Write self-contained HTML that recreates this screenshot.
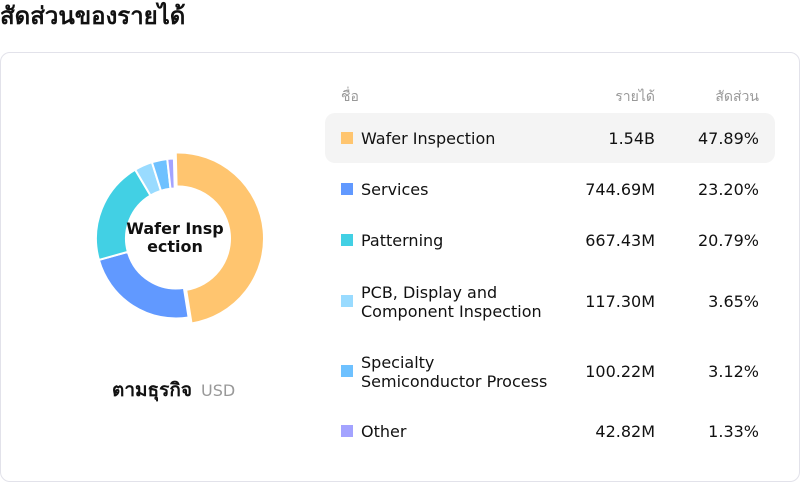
<!DOCTYPE html>
<html><head><meta charset="utf-8"><style>
*{margin:0;padding:0;box-sizing:border-box}
body{width:800px;height:482px;background:#fff;font-family:"DejaVu Sans","Liberation Sans","Noto Sans CJK SC",sans-serif;color:#111;position:relative;overflow:hidden}
.title{position:absolute;left:0;top:0;font-size:24px;font-weight:bold;line-height:32px}
.card{position:absolute;left:0;top:52px;width:800px;height:430px;border:1px solid #e2e2ea;border-radius:10px}
.t{position:absolute;font-size:16px;white-space:nowrap}
.h{position:absolute;font-size:14px;color:#999;top:86px}
.sw{position:absolute;left:341px;width:12px;height:12px}
.r{text-align:right}
</style></head><body>
<div class="title">สัดส่วนของรายได้</div>
<div class="card"></div>
<svg style="position:absolute;left:0;top:0" width="800" height="482" id="s"></svg>
<div style="position:absolute;left:115px;top:220px;width:120px;text-align:center;font-weight:bold;font-size:16px;line-height:18px">Wafer Insp<br>ection</div>
<div style="position:absolute;left:112px;top:375px;font-size:19px;font-weight:bold">ตามธุรกิจ<span style="font-weight:normal;color:#999;font-size:16px;margin-left:9px">USD</span></div>
<div class="h" style="left:341px">ชื่อ</div>
<div class="h r" style="right:145px">รายได้</div>
<div class="h r" style="right:41px">สัดส่วน</div>
<div style="position:absolute;left:325px;top:113px;width:450px;height:50px;background:#f4f4f4;border-radius:10px"></div>
<div id="rows"></div>
<script>
const d=[["Wafer Inspection","1.54B","47.89%",47.89,"#FFC56F",139],["Services","744.69M","23.20%",23.20,"#6199FF",190],["Patterning","667.43M","20.79%",20.79,"#42D0E4",241],["PCB, Display and<br>Component Inspection","117.30M","3.65%",3.65,"#99DBFF",302],["Specialty<br>Semiconductor Process","100.22M","3.12%",3.12,"#6EC1FF",372],["Other","42.82M","1.33%",1.33,"#A3A3FF",432]];
let h="";
for(const r of d){const two=r[0].includes("<br>");
h+=`<div class="sw" style="top:${r[5]-7}px;background:${r[4]}"></div>
<div class="t" style="left:361px;top:${r[5]-(two?19:10)}px;line-height:19px">${r[0]}</div>
<div class="t r" style="right:145px;top:${r[5]-10}px;line-height:19px">${r[1]}</div>
<div class="t r" style="right:41px;top:${r[5]-10}px;line-height:19px">${r[2]}</div>`;}
document.getElementById("rows").innerHTML=h;
let a=-1.5*Math.PI/180-Math.PI/2;let s="";
const tot=d.reduce((x,y)=>x+y[3],0);
d.forEach((r,i)=>{const b=a+r[3]/tot*2*Math.PI;const L=(b-a)>Math.PI?1:0;
const cx=i==0?178:176,cy=238.5,R=i==0?86:80,ri=i==0?52:50;
const p=(rr,t)=>`${cx+rr*Math.cos(t)},${cy+rr*Math.sin(t)}`;
s+=`<path d="M${p(R,a)}A${R},${R} 0 ${L} 1 ${p(R,b)}L${p(ri,b)}A${ri},${ri} 0 ${L} 0 ${p(ri,a)}Z" fill="${r[4]}" stroke="#fff" stroke-width="2"/>`;a=b;});
document.getElementById("s").innerHTML=s;
</script>
</body></html>
